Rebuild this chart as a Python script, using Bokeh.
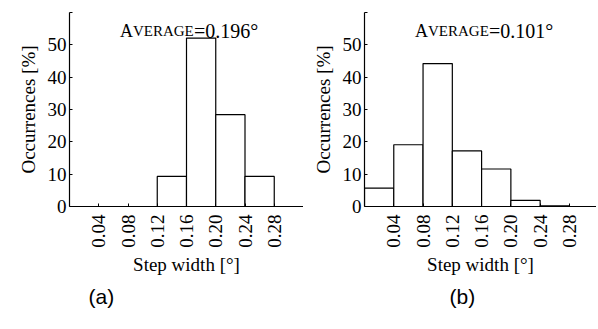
import math
from bokeh.plotting import figure
from bokeh.layouts import row
from bokeh.models import Range1d, FixedTicker, Label, ColumnDataSource, Title
from bokeh.embed import file_html
from bokeh.resources import INLINE

# ---- data ----
bin_edges = [0.00, 0.04, 0.08, 0.12, 0.16, 0.20, 0.24, 0.28]
occ_a = [0.0, 0.0, 0.0, 9.3, 52.1, 28.4, 9.3]
occ_b = [5.7, 19.1, 44.2, 17.2, 11.6, 1.9, 0.2]
x_ticks = [0.04, 0.08, 0.12, 0.16, 0.20, 0.24, 0.28]
x_tick_labels = ["0.04", "0.08", "0.12", "0.16", "0.20", "0.24", "0.28"]
y_ticks = [0, 10, 20, 30, 40, 50, 60]
avg_a = "=0.196\u00b0"
avg_b = "=0.101\u00b0"
caption_a = "(a)"
caption_b = "(b)"
x_label = "Step width [\u00b0]"
y_label = "Occurrences [%]"

SERIF = "Liberation Serif"
FS = "19px"


def make_panel(values, avg_text, caption, border_left, frame_w, x_end, cap_offset):
    p = figure(width=border_left + frame_w, height=325, output_backend="svg",
               toolbar_location=None,
               x_range=Range1d(0, x_end), y_range=Range1d(0, 60),
               min_border_left=border_left, min_border_right=0,
               min_border_top=12, min_border_bottom=119)
    p.outline_line_color = None
    p.grid.visible = False
    p.background_fill_color = "white"
    p.border_fill_color = "white"

    src = ColumnDataSource(dict(left=bin_edges[:-1], right=bin_edges[1:],
                                top=values, bottom=[0] * len(values)))
    p.quad(left="left", right="right", top="top", bottom="bottom", source=src,
           fill_color="white", line_color="black", line_width=1.2)

    # x axis
    p.xaxis.ticker = FixedTicker(ticks=x_ticks)
    p.xaxis.major_label_overrides = {t: s for t, s in zip(x_ticks, x_tick_labels)}
    p.xaxis.major_label_orientation = math.pi / 2
    p.xaxis.major_tick_in = 3
    p.xaxis.major_tick_out = 0
    p.xaxis.minor_tick_line_color = None
    p.xaxis.major_label_standoff = 8
    p.xaxis.axis_label = x_label
    p.xaxis.axis_label_standoff = 3
    # y axis
    p.yaxis.ticker = FixedTicker(ticks=y_ticks)
    p.yaxis.major_label_overrides = {60: ""}
    p.yaxis.major_tick_in = 3
    p.yaxis.major_tick_out = 0
    p.yaxis.minor_tick_line_color = None
    p.yaxis.major_label_standoff = 3
    p.yaxis.axis_label = y_label
    p.yaxis.axis_label_standoff = 6

    for ax in (p.xaxis, p.yaxis):
        ax.axis_line_color = "black"
        ax.axis_line_width = 1.2
        ax.major_tick_line_color = "black"
        ax.major_label_text_font = SERIF
        ax.major_label_text_font_size = FS
        ax.major_label_text_color = "black"
        ax.axis_label_text_font = SERIF
        ax.axis_label_text_font_size = FS
        ax.axis_label_text_font_style = "normal"
        ax.axis_label_text_color = "black"

    # small-caps title "AVERAGE=..."
    tx, ty = 0.069, 54.2
    p.add_layout(Label(x=tx, y=ty, text="A", text_font=SERIF, text_font_size="18px",
                       text_baseline="alphabetic", text_color="black"))
    p.add_layout(Label(x=tx, y=ty, x_offset=13, text="VERAGE", text_font=SERIF,
                       text_font_size="15px", text_baseline="alphabetic", text_color="black"))
    p.add_layout(Label(x=tx, y=ty, x_offset=74, text=avg_text, text_font=SERIF,
                       text_font_size="20px", text_baseline="alphabetic", text_color="black"))
    # caption below
    cap = Title(text=caption, align="left", offset=cap_offset, standoff=11,
                text_font="Liberation Sans", text_font_size="21px",
                text_font_style="normal", text_color="black")
    p.add_layout(cap, "below")
    return p


p1 = make_panel(occ_a, avg_a, caption_a, 69, 234, 0.32, 19)
p2 = make_panel(occ_b, avg_b, caption_b, 61, 232, 0.317, 85)
layout = row(p1, p2, spacing=0)

open("out.html", "w").write(file_html(layout, INLINE))
